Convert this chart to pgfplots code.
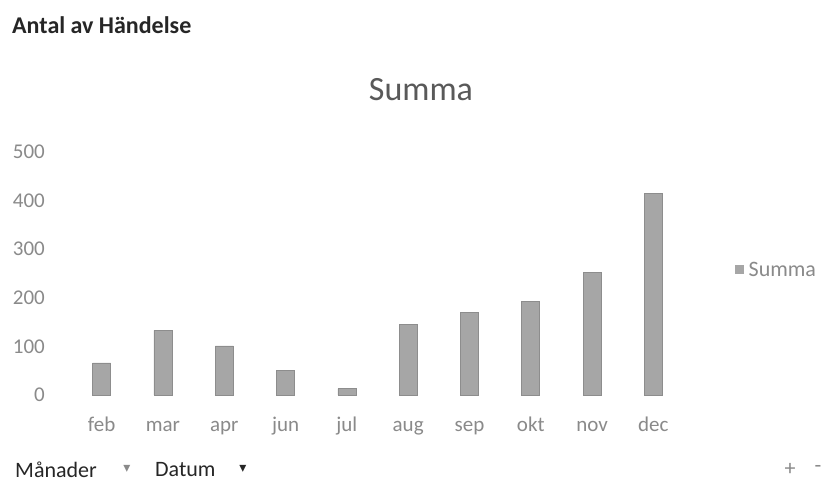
\documentclass[border=0pt]{standalone}
\usepackage{fontspec}
\setmainfont{Carlito}
\newfontfamily\dejavu{DejaVu Sans}
\usepackage{pgfplots}
\pgfplotsset{compat=1.18}
\definecolor{bargray}{HTML}{A6A6A6}
\definecolor{labgray}{HTML}{8A8A8A}
\definecolor{titlegray}{HTML}{595959}
\definecolor{dark}{HTML}{262626}
\begin{document}
\begin{tikzpicture}[x=1pt,y=1pt]
\useasboundingbox (0,0) rectangle (825,497);
\fill[white] (0,0) rectangle (825,497);
\begin{axis}[
  at={(71pt,102pt)}, anchor=south west,
  scale only axis, width=613pt, height=243pt,
  xmin=-0.5, xmax=9.5, ymin=0, ymax=500,
  ytick={0,100,200,300,400,500},
  xtick={0,...,9},
  xticklabels={feb,mar,apr,jun,jul,aug,sep,okt,nov,dec},
  axis line style={draw=none},
  major tick length=0pt, tick style={draw=none},
  /pgf/number format/assume math mode=true,
  ticklabel style={font=\fontsize{21}{24}\selectfont, text=labgray},
  yticklabel style={anchor=east, inner sep=0pt, xshift=-26pt},
  xticklabel style={anchor=base, inner sep=0pt, yshift=-37pt},
  ybar, bar width=18pt,
  clip=false,
  legend style={at={(1.083,0.514)}, anchor=west, draw=none, fill=none,
    font=\fontsize{22}{26}\selectfont, text=labgray, inner sep=0pt},
  legend image code/.code={\fill[bargray] (0pt,-3.5pt) rectangle (8pt,4.5pt);},
]
\addplot[fill=bargray, draw=bargray!85!black, line width=0.6pt] coordinates {
  (0,66) (1,133) (2,101) (3,51) (4,13) (5,145) (6,170) (7,192) (8,253) (9,415)
};
\addlegendentry{\hspace{3pt}Summa}
\end{axis}
\node[anchor=center, text=titlegray, font=\fontsize{34}{40}\selectfont] at (421,407) {Summa};
\node[anchor=west, text=dark, font=\bfseries\fontsize{24}{28}\selectfont, inner sep=0pt] at (12,472) {Antal av Händelse};
\node[anchor=west, text=dark, font=\fontsize{22}{26}\selectfont, inner sep=0pt] at (15,27) {Månader};
\node[anchor=center, text=labgray, font=\dejavu\fontsize{14}{16}\selectfont, inner sep=0pt] at (127,28) {▾};
\node[anchor=west, text=dark, font=\fontsize{22}{26}\selectfont, inner sep=0pt] at (155,27) {Datum};
\node[anchor=center, text=dark, font=\dejavu\fontsize{14}{16}\selectfont, inner sep=0pt] at (243,28) {▾};
\node[anchor=center, text=labgray, font=\fontsize{22}{26}\selectfont, inner sep=0pt] at (790,28) {+};
\node[anchor=center, text=labgray, font=\fontsize{22}{26}\selectfont, inner sep=0pt] at (818,28) {-};
\end{tikzpicture}
\end{document}
